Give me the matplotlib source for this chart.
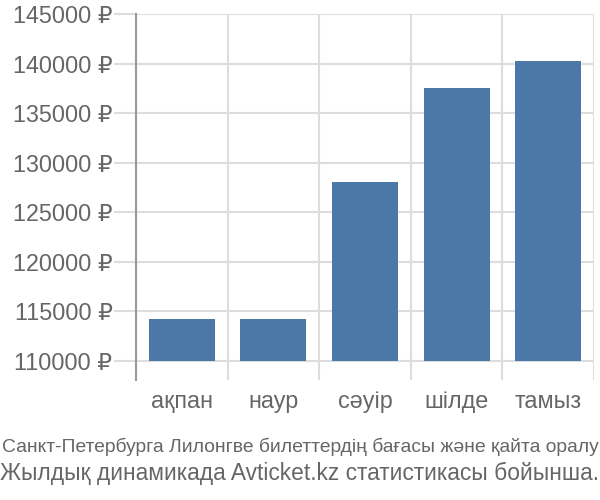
import matplotlib
matplotlib.use("Agg")
import matplotlib.pyplot as plt
from matplotlib.ticker import FixedLocator

categories = ["ақпан", "наур", "сәуір", "шілде", "тамыз"]
values = [114200, 114200, 128050, 137500, 140300]
yticks = [110000, 115000, 120000, 125000, 130000, 135000, 140000, 145000]
ytick_labels = [f"{v} ₽" for v in yticks]
caption1 = "Санкт-Петербурга Лилонгве билеттердің бағасы және қайта оралу"
caption2 = "Жылдық динамикада Avticket.kz статистикасы бойынша."

plt.rcParams['font.family'] = ['Liberation Sans', 'DejaVu Sans']

fig = plt.figure(figsize=(6, 5), dpi=100)
ax = fig.add_axes([136/600, 1-380/500, (594-136)/600, (380-14)/500])

base = 110000
x = list(range(len(categories)))
ax.bar(x, [v - base for v in values], bottom=base, width=0.72,
       color='#4c78a8', zorder=3)

ax.set_xlim(-0.5, len(categories) - 0.5)
ax.set_ylim(108080, 145000)
ax.set_yticks(yticks)
ax.set_yticklabels(ytick_labels)
ax.set_xticks(x)
ax.set_xticklabels(categories)
ax.xaxis.set_minor_locator(FixedLocator([i - 0.5 for i in range(len(categories) + 1)]))

ax.grid(axis='y', which='major', color='#dddddd', linewidth=1.5, zorder=0)
ax.grid(axis='x', which='minor', color='#dddddd', linewidth=1.5, zorder=0)

ax.tick_params(axis='y', length=16, width=1.5, color='#dddddd', pad=1,
               labelsize=16.8, labelcolor='#666666')
ax.tick_params(axis='x', which='major', length=0, pad=7,
               labelsize=16.8, labelcolor='#666666')
ax.tick_params(axis='x', which='minor', length=0)

for s in ['top', 'right', 'bottom']:
    ax.spines[s].set_visible(False)
ax.spines['left'].set_color('#999999')
ax.spines['left'].set_linewidth(1.5)

t1 = fig.text(0.5, 1-447/500, caption1, ha='center', va='center', fontsize=15,
              color='#666666')
t2 = fig.text(0.5, 1-473/500, caption2, ha='center', va='center', fontsize=16.5,
              color='#666666')

# fit caption widths to figure width
fig.canvas.draw()
r = fig.canvas.get_renderer()
for t, target in [(t1, 596), (t2, 598)]:
    w = t.get_window_extent(r).width
    t.set_fontsize(t.get_fontsize() * target / w)

fig.savefig("out.png", dpi=100)
